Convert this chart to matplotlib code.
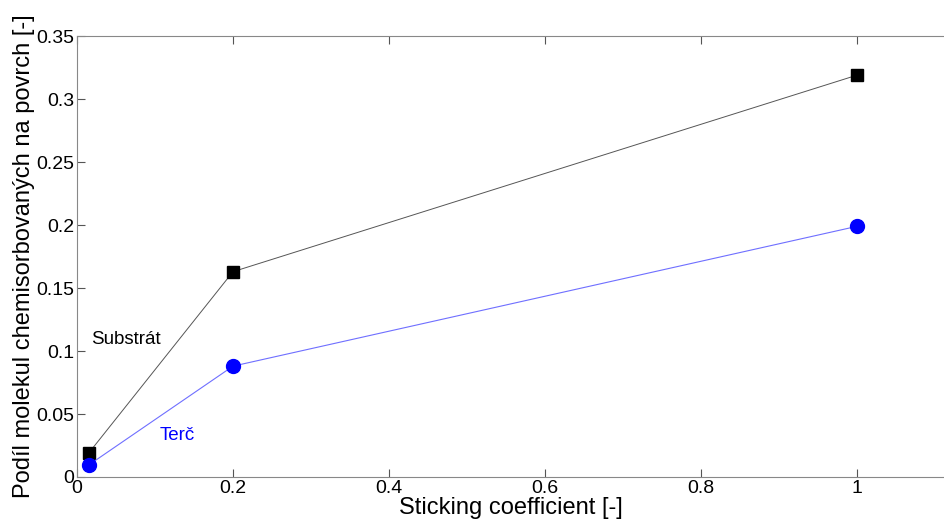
import matplotlib.pyplot as plt

plt.rcParams['font.family'] = ['Liberation Sans', 'DejaVu Sans']

sticking = [0.015, 0.2, 1.0]
substrat = [0.019, 0.163, 0.319]
terc = [0.0095, 0.088, 0.199]

fig = plt.figure(figsize=(9.45, 5.24), dpi=100)
ax = fig.add_axes([0.0815, 0.0897, 0.9185, 0.8413])

ax.plot(sticking, substrat, color='#555555', linewidth=0.7, marker='s',
        markersize=8, markerfacecolor='black', markeredgecolor='black')
ax.plot(sticking, terc, color='#6f6fff', linewidth=0.8, marker='o',
        markersize=10, markerfacecolor='blue', markeredgecolor='blue')

ax.text(0.018, 0.109, 'Substrát', color='black', fontsize=13.5, va='center')
ax.text(0.106, 0.033, 'Terč', color='blue', fontsize=13.5, va='center')

ax.set_xlim(0, 1.113)
ax.set_ylim(0, 0.35)
ax.set_xticks([0, 0.2, 0.4, 0.6, 0.8, 1])
ax.set_xticklabels(['0', '0.2', '0.4', '0.6', '0.8', '1'])
ax.set_yticks([0, 0.05, 0.1, 0.15, 0.2, 0.25, 0.3, 0.35])
ax.set_yticklabels(['0', '0.05', '0.1', '0.15', '0.2', '0.25', '0.3', '0.35'])

ax.set_xlabel('Sticking coefficient [-]', fontsize=17, labelpad=0)
ax.set_ylabel('Podíl molekul chemisorbovaných na povrch [-]', fontsize=17, labelpad=1)

for s in ax.spines.values():
    s.set_color('#888888')
ax.spines['right'].set_visible(False)
ax.tick_params(direction='in', length=6, color='#555555', labelsize=14,
               top=True, pad=2)

fig.savefig('out.png', dpi=100)
